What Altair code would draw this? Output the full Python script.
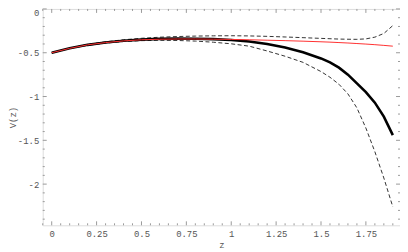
import altair as alt
import pandas as pd

z = [0, 0.1, 0.2, 0.3, 0.4, 0.5, 0.6, 0.7, 0.8, 0.9, 1.0, 1.1, 1.2, 1.3, 1.4, 1.5,
     1.55, 1.6, 1.65, 1.7, 1.75, 1.8, 1.85, 1.9]
v_black = [-0.5, -0.45, -0.41, -0.383, -0.363, -0.35, -0.342, -0.339, -0.34, -0.345,
           -0.355, -0.372, -0.40, -0.44, -0.495, -0.565, -0.61, -0.67, -0.75, -0.85,
           -0.95, -1.07, -1.23, -1.44]
v_red = [-0.5, -0.45, -0.41, -0.384, -0.365, -0.352, -0.346, -0.343, -0.343, -0.345,
         -0.348, -0.352, -0.357, -0.362, -0.368, -0.375, -0.379, -0.384, -0.389, -0.395,
         -0.401, -0.408, -0.416, -0.425]
v_upper = [-0.5, -0.448, -0.405, -0.375, -0.352, -0.335, -0.323, -0.315, -0.31, -0.307,
           -0.306, -0.308, -0.313, -0.32, -0.328, -0.336, -0.34, -0.344, -0.346, -0.347,
           -0.342, -0.322, -0.28, -0.19]
v_lower = [-0.5, -0.452, -0.415, -0.39, -0.372, -0.362, -0.358, -0.36, -0.367, -0.38,
           -0.398, -0.425, -0.48, -0.54, -0.61, -0.715, -0.78, -0.86, -0.97, -1.13,
           -1.36, -1.63, -1.93, -2.26]

x_major = [0, 0.25, 0.5, 0.75, 1, 1.25, 1.5, 1.75]
x_minor = [round(-0.05 + 0.05 * i, 2) for i in range(40) if round((-0.05 + 0.05 * i) / 0.25, 6) % 1 != 0]
y_major = [0, -0.5, -1, -1.5, -2]
y_minor = [round(-0.1 * i, 1) for i in range(25) if i % 5 != 0]

W, H = 360, 218
XDOM = [-0.05, 1.94]
YDOM = [-2.47, 0]
FONT = "Liberation Mono"
FRAME = "#9a9a9a"

xs = alt.Scale(domain=XDOM, nice=False, zero=False)
ys = alt.Scale(domain=YDOM, nice=False, zero=False)

xaxis = alt.Axis(
    values=x_major, labelExpr="'' + datum.value", title="z", tickSize=0, domain=False, grid=False,
    labelFont=FONT, labelFontSize=9, labelColor="#555", labelPadding=4,
    titleFont=FONT, titleFontSize=9, titleFontWeight="normal", titleColor="#555",
    titlePadding=2)
yaxis = alt.Axis(
    values=y_major, labelExpr="'' + datum.value", title="V(z)", tickSize=0, domain=False, grid=False,
    labelFont=FONT, labelFontSize=9, labelColor="#555", labelPadding=4,
    labelFlush=True, labelFlushOffset=0,
    titleFont=FONT, titleFontSize=9, titleFontWeight="normal", titleColor="#555",
    titlePadding=0)

df = pd.DataFrame({"z": z, "black": v_black, "red": v_red, "upper": v_upper, "lower": v_lower})
base = alt.Chart(df)

def curve(col, **kw):
    return base.mark_line(**kw).encode(
        x=alt.X("z:Q", scale=xs, axis=xaxis),
        y=alt.Y(f"{col}:Q", scale=ys, axis=yaxis))

upper = curve("upper", color="#333333", strokeWidth=1, strokeDash=[4, 2.5])
lower = curve("lower", color="#333333", strokeWidth=1, strokeDash=[4, 2.5])
black = curve("black", color="black", strokeWidth=2.6)
red = curve("red", color="#ff3030", strokeWidth=1)

def xticks(vals, L):
    d = alt.Chart(pd.DataFrame({"t": vals}))
    b = d.mark_rule(color=FRAME, strokeWidth=1).encode(
        x=alt.X("t:Q", scale=xs, axis=xaxis), y=alt.value(H), y2=alt.value(H - L))
    t = d.mark_rule(color=FRAME, strokeWidth=1).encode(
        x=alt.X("t:Q", scale=xs, axis=xaxis), y=alt.value(0), y2=alt.value(L))
    return [b, t]

def yticks(vals, L):
    d = alt.Chart(pd.DataFrame({"t": vals}))
    l = d.mark_rule(color=FRAME, strokeWidth=1).encode(
        y=alt.Y("t:Q", scale=ys, axis=yaxis), x=alt.value(0), x2=alt.value(L))
    r = d.mark_rule(color=FRAME, strokeWidth=1).encode(
        y=alt.Y("t:Q", scale=ys, axis=yaxis), x=alt.value(W), x2=alt.value(W - L))
    return [l, r]

tick_layers = xticks(x_major, 4) + xticks(x_minor, 2) + yticks(y_major, 4) + yticks(y_minor, 2)

chart = alt.layer(upper, lower, black, red, *tick_layers).properties(
    width=W, height=H,
    autosize=alt.AutoSizeParams(type="none"),
    padding={"left": 35, "top": 0, "right": 0, "bottom": 30},
).configure_view(stroke=FRAME, strokeWidth=1).configure(background="white")

chart.save("out.html", embed_options={"renderer": "svg", "actions": False})
